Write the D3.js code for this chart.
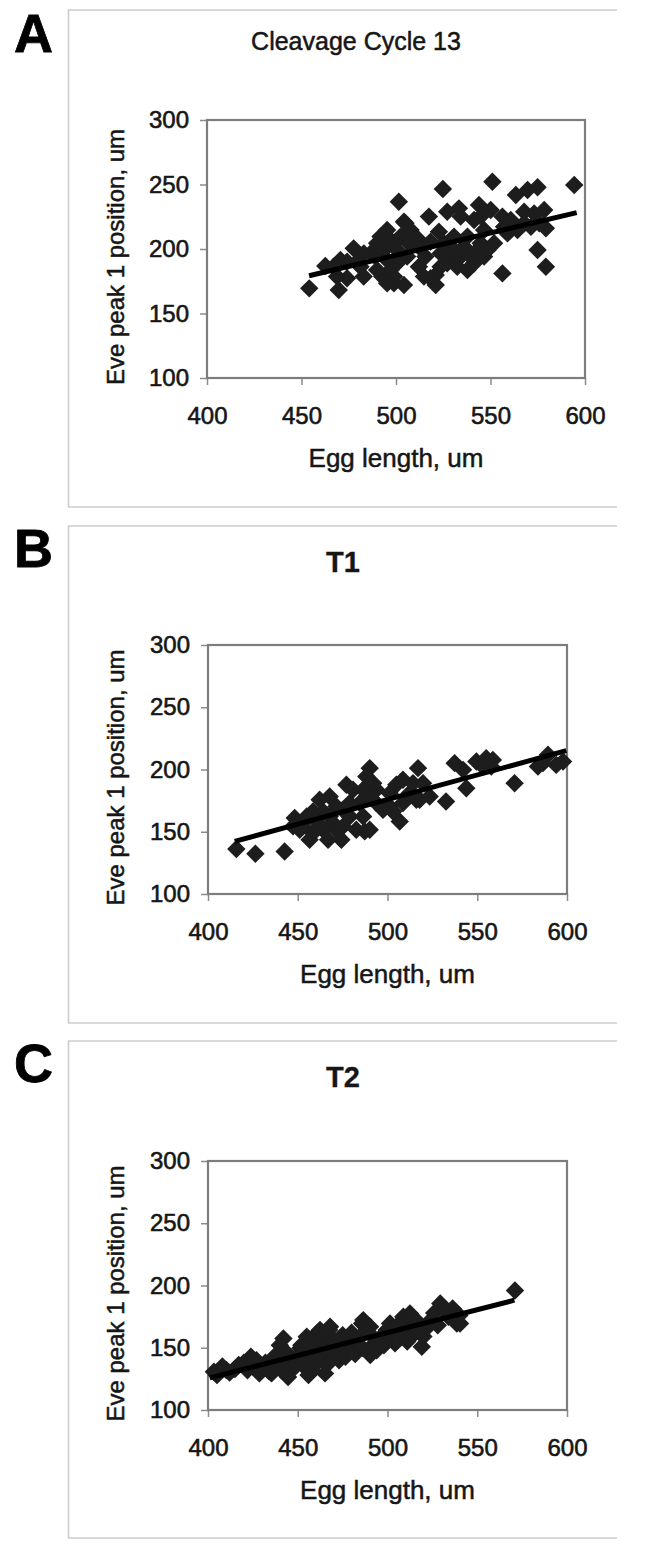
<!DOCTYPE html>
<html><head><meta charset="utf-8">
<script src="https://cdn.jsdelivr.net/npm/d3@7"></script>
<style>body{margin:0;background:#fff} svg{display:block} text{font-family:"Liberation Sans",Arial,Helvetica,sans-serif}</style>
</head><body><svg id="c" width="646" height="1556"></svg>
<script>
const xTicks=[400,450,500,550,600];
const yTicks=[100,150,200,250,300];
const panelLetters=["A","B","C"];
const panelTitles=["Cleavage Cycle 13","T1","T2"];
const xTitle="Egg length, um";
const yTitle="Eve peak 1 position, um";

const eggA=[454.1,462.6,469.7,470.6,474.1,477.6,481.2,486.5,490,495.3,492.7,497.1,498.9,504.2,501.5,504.2,507.7,511.2,500.6,505.9,512.1,517.4,521,521,524.8,527.1,525.4,530.7,533.3,528.9,532.4,536,537.8,541.3,543.9,544.8,546.6,551,551.9,556.3,556.3,557.2,563.4,569.6,574.9,567.8,578.4,579.3,574.9,579.3,594.3,559,571.4,573.1,474.1,483,489.1,493.6,497.1,491.8,502.4,506.8,513,515.6,495.3,500.6,490,498.9,495.3,505,523.6,527.1,523.6,530.7,534.3,539.5,541.3,543.1,537.8,546.6,548.4,544.8,550.1,560.7,567.8,575.8,564.3,518.3,514.8,482.9,468.8,467,479.4,522.7,534.2,518.3];
const peakA=[169.5,186.8,168.2,191.5,177.3,200.5,186.3,196.6,204.4,214.7,178.6,183.7,173.4,172.1,236.7,221.2,214.7,208.3,199.2,194.1,186.3,225.1,179.8,172.1,246.5,228.9,204.4,209.6,231.5,194.1,186.3,201.8,183.7,222.5,234.1,204.4,194.1,252.2,204.4,225.1,181.1,217.3,241.9,245.7,247.8,228.9,230.2,216,199.2,186.3,249.6,212.1,217.3,227.6,190.2,196.6,194.1,199.2,207,209.6,209.6,204.4,200.5,194.1,191.5,188.9,183.7,178.6,173.4,220,196.6,188.9,186.3,199.2,194.1,194.1,188.9,199.2,209.6,214.7,199.2,225.1,230.2,222.5,219.9,219.9,214.7,205.7,178.6,178.6,178.6,186.3,190.2,213.4,225.1,177.3];
const trendEggA=[454,595.6];
const trendPeakA=[179.3,228.2];

const eggB=[415.8,426.4,442.7,448.3,452.9,458.5,464.1,467.8,466.9,474.3,477.1,471.5,478.9,484.5,487.3,490.1,492,490.1,486.4,493.8,501.2,504.9,506.8,503.1,512.3,517,517.9,519.8,532.6,537.4,543.9,549.5,555,557.8,570.8,586.6,589.4,594,597.8,542.1,447.4,455,460.4,462.2,469.6,475.2,482.6,480.8,488.2,493.8,497.5,508.6,514.2,523.5,516.1,458.5,471.5,464.1,456.6,451.1,553.2,558.7,583.8,478.9,490.1,501.2,508.6,475.2,467.8,486.4];
const peakB=[136.1,132.4,134.2,161,154.3,148.9,166.3,178.3,143.6,143.6,187.7,170.3,162.3,173,150.3,201.1,189,151.6,162.3,173,170.3,187.7,158.3,166.3,181,201.1,175.7,189,174.3,205.1,185,206.4,209.1,202.4,189,205.1,211.8,203.7,206.4,199.7,154.3,162.3,158.3,175.7,157,154.3,151.6,183.7,194.4,183.7,167.6,191.7,189,178.3,175.7,166.3,151.6,151.6,143.6,151.6,202.4,207.7,202.4,173,178.3,181,173,167.6,162.3,183.7];
const trendEggB=[414.9,599.6];
const trendPeakB=[142.2,215.2];

const eggC=[403.3,410.2,417.1,423.9,430.8,428.6,435.4,440,444.6,444.6,451.4,453.7,456,460.6,465.2,465.2,467.5,472.1,476.6,481.2,485.8,490.4,492.7,499.6,504.2,508.8,513.3,519.1,522.5,529.4,534,538.6,536.3,571,536.7,540.4,512.5,508.8,501.4,486.5,490.3,468,462.4,455,442,
 405,408,412,415,420,422,425,427,432,434,437,439,441,443,446,448,450,452,454,457,458,460,462,463,465,466,468,470,471,473,475,477,479,480,482,484,486,488,489,491,494,496,498,502,505,506,508,510,511,514,516,518,520,524,526,528,532,540];
const peakC=[130.7,132.1,136.1,142.8,134.8,129.4,129.4,152.1,144.1,126.5,149.5,134.8,128.1,161.5,142.8,129.4,164.2,150.8,142.8,156.1,169.5,144.1,153.5,164.2,153.5,174.9,166.8,150.8,166.8,185.6,174.9,169.5,181.6,196,177.5,169.5,177.5,172.2,169.5,172.2,166.8,166.8,164.2,158.8,157.5,
 128,135,130,133,138,132,136,140,138,131,143,136,132,147,139,134,143,152,138,147,132,152,140,156,149,136,158,145,155,140,160,150,147,162,145,158,150,163,147,160,148,158,152,160,167,158,163,170,155,160,172,165,159,172,178,168,180,176];
const trendEggC=[401,570.7];
const trendPeakC=[125.8,188.2];

const svg=d3.select("#c");
const layout=[
 {egg:eggA,peak:peakA,tE:trendEggA,tP:trendPeakA,L:207,R:585,T:120,B:378,frameTop:10,letterY:52,titleX:356,titleY:50,bold:false,tSize:25},
 {egg:eggB,peak:peakB,tE:trendEggB,tP:trendPeakB,L:208,R:567,T:645,B:894,frameTop:526,letterY:567,titleX:343,titleY:572,bold:true,tSize:29},
 {egg:eggC,peak:peakC,tE:trendEggC,tP:trendPeakC,L:208,R:567,T:1161,B:1410,frameTop:1041,letterY:1082,titleX:343,titleY:1087,bold:true,tSize:29}
];
const diamond=d3.symbol().type(d3.symbolSquare).size(170)();
const ink="#161616";

layout.forEach((p,i)=>{
  const g=svg.append("g");
  const fb=p.frameTop+497;
  g.append("path").attr("d",`M617,${p.frameTop}H68.5V${fb}H617`).attr("fill","none").attr("stroke","#cdcdcd").attr("stroke-width",1.6);
  g.append("text").attr("x",14).attr("y",p.letterY).attr("font-size",54).attr("font-weight","bold").attr("fill","#000").attr("stroke","#000").attr("stroke-width",0.8).text(panelLetters[i]);
  g.append("text").attr("x",p.titleX).attr("y",p.titleY).attr("text-anchor","middle").attr("font-size",p.tSize)
    .attr("font-weight",p.bold?"bold":"normal").attr("fill",ink).attr("stroke",ink).attr("stroke-width",p.bold?0.3:0.5).text(panelTitles[i]);

  const x=d3.scaleLinear().domain([400,600]).range([p.L,p.R]);
  const y=d3.scaleLinear().domain([100,300]).range([p.B,p.T]);

  const xa=g.append("g").attr("transform",`translate(0,${p.B})`)
    .call(d3.axisBottom(x).tickValues(xTicks).tickSize(7).tickPadding(22).tickSizeOuter(0));
  const ya=g.append("g").attr("transform",`translate(${p.L},0)`)
    .call(d3.axisLeft(y).tickValues(yTicks).tickSize(7).tickPadding(11).tickSizeOuter(0));
  [xa,ya].forEach(a=>{
    a.select(".domain").remove();
    a.selectAll(".tick line").attr("stroke","#8c8c8c").attr("stroke-width",1.5);
    a.selectAll(".tick text").attr("font-size",24).attr("fill",ink).attr("stroke",ink).attr("stroke-width",0.6)
      .attr("font-family",'"Liberation Sans",Arial,sans-serif');
  });

  g.append("rect").attr("x",p.L).attr("y",p.T).attr("width",p.R-p.L).attr("height",p.B-p.T)
    .attr("fill","none").attr("stroke","#7d7d7d").attr("stroke-width",2.2);

  g.append("text").attr("x",(p.L+p.R)/2).attr("y",p.B+89).attr("text-anchor","middle").attr("font-size",26)
    .attr("fill",ink).attr("stroke",ink).attr("stroke-width",0.5).text(xTitle);
  const cy=(p.T+p.B)/2+8;
  g.append("text").attr("transform",`translate(124,${cy}) rotate(-90)`).attr("text-anchor","middle").attr("font-size",24)
    .attr("fill",ink).attr("stroke",ink).attr("stroke-width",0.5).text(yTitle);

  const pts=p.egg.map((e,k)=>[e,p.peak[k]]);
  g.append("g").selectAll("path").data(pts).join("path")
    .attr("d",diamond).attr("transform",d=>`translate(${x(d[0])},${y(d[1])}) rotate(45)`).attr("fill","#1d1d1d");

  const tl=p.tE.map((e,k)=>[e,p.tP[k]]);
  g.append("path").datum(tl).attr("d",d3.line().x(d=>x(d[0])).y(d=>y(d[1])))
    .attr("stroke","#000").attr("stroke-width",5).attr("fill","none");
});
</script></body></html>
